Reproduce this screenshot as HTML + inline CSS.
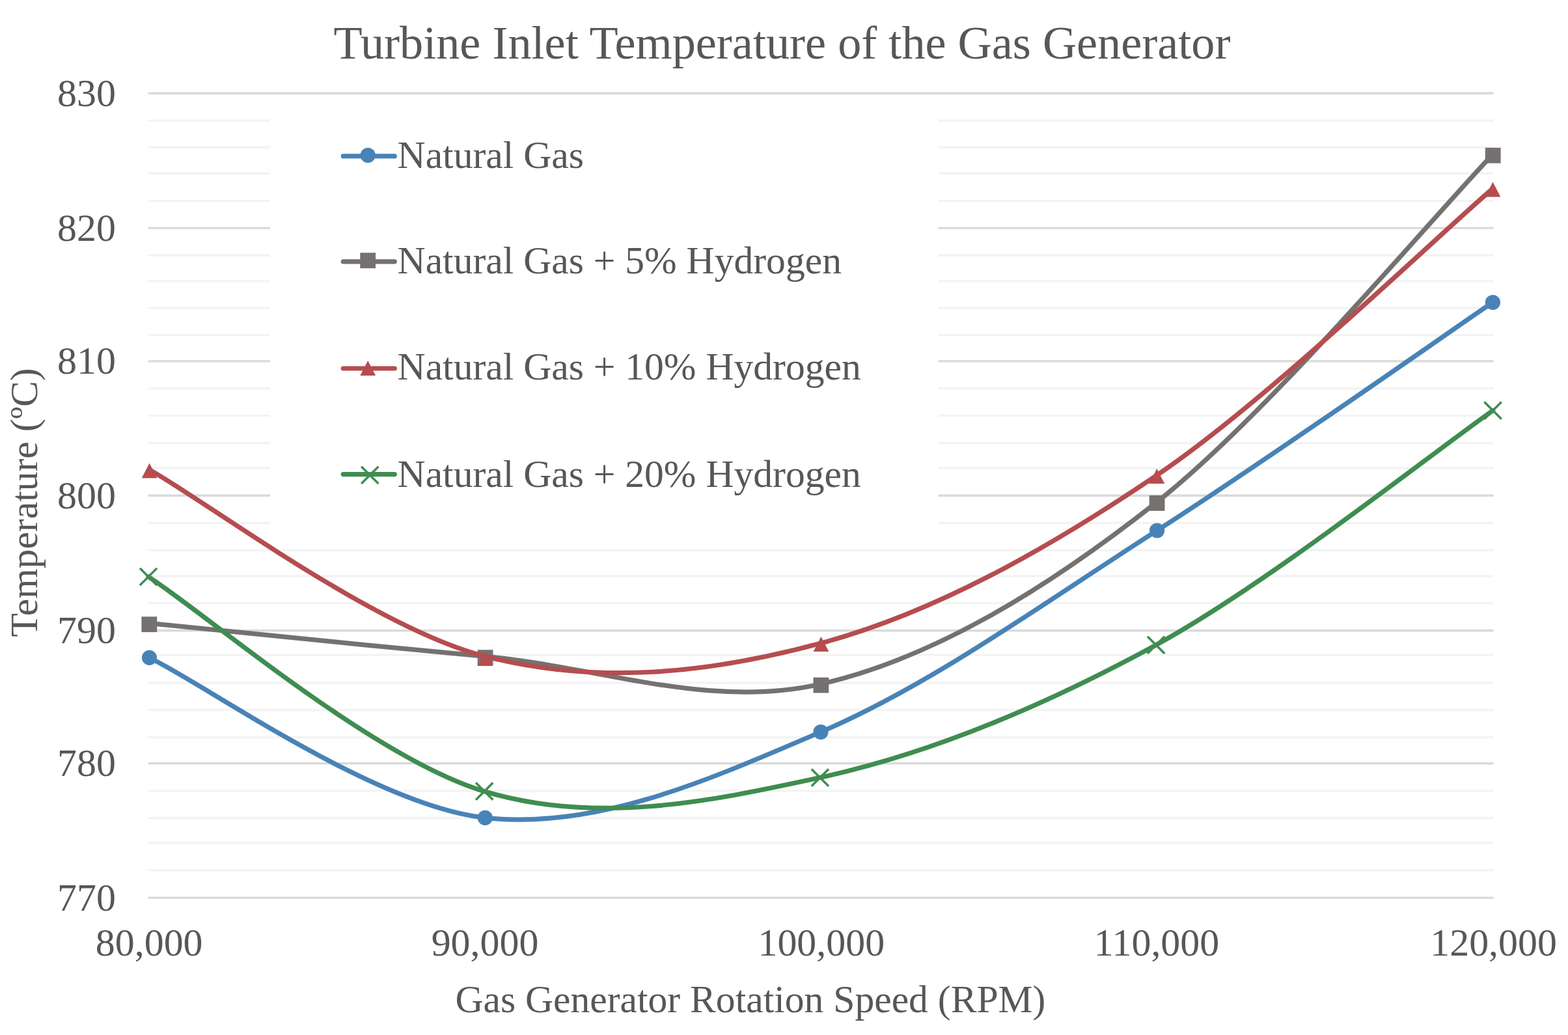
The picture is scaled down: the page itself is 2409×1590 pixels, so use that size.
<!DOCTYPE html>
<html lang="en"><head><meta charset="utf-8">
<title>Turbine Inlet Temperature of the Gas Generator</title>
<style>
html,body{margin:0;padding:0;background:#fff;}
body{width:2409px;height:1590px;overflow:hidden;}
svg{display:block;}
text{font-family:"Liberation Serif","Times New Roman",Times,serif;fill:#575757;font-kerning:normal;}
.t{font-size:72.2px;}
.a{font-size:59.6px;}
.k{font-size:59.9px;}
</style></head><body>
<svg width="2409" height="1590" viewBox="0 0 2409 1590" role="img" aria-label="Turbine Inlet Temperature of the Gas Generator">
<rect width="2409" height="1590" fill="#fff"/>
<g fill="none" stroke-width="3.4">
<path d="M227.8 143.3 H2294.6" stroke="#DADADA"/>
<path d="M227.8 185.1 H415 M1441.4 185.1 H2294.6" stroke="#F3F3F3"/>
<path d="M227.8 226.3 H415 M1441.4 226.3 H2294.6" stroke="#F3F3F3"/>
<path d="M227.8 266.3 H415 M1441.4 266.3 H2294.6" stroke="#F3F3F3"/>
<path d="M227.8 308.6 H415 M1441.4 308.6 H2294.6" stroke="#F3F3F3"/>
<path d="M227.8 350.4 H415 M1441.4 350.4 H2294.6" stroke="#DADADA"/>
<path d="M227.8 392.2 H415 M1441.4 392.2 H2294.6" stroke="#F3F3F3"/>
<path d="M227.8 432 H415 M1441.4 432 H2294.6" stroke="#F3F3F3"/>
<path d="M227.8 473.1 H415 M1441.4 473.1 H2294.6" stroke="#F3F3F3"/>
<path d="M227.8 514.9 H415 M1441.4 514.9 H2294.6" stroke="#F3F3F3"/>
<path d="M227.8 554.9 H415 M1441.4 554.9 H2294.6" stroke="#DADADA"/>
<path d="M227.8 596.7 H415 M1441.4 596.7 H2294.6" stroke="#F3F3F3"/>
<path d="M227.8 638.6 H415 M1441.4 638.6 H2294.6" stroke="#F3F3F3"/>
<path d="M227.8 680.8 H415 M1441.4 680.8 H2294.6" stroke="#F3F3F3"/>
<path d="M227.8 719 H415 M1441.4 719 H2294.6" stroke="#F3F3F3"/>
<path d="M227.8 761.2 H415 M1441.4 761.2 H2294.6" stroke="#DADADA"/>
<path d="M227.8 803.5 H415 M1441.4 803.5 H2294.6" stroke="#F3F3F3"/>
<path d="M227.8 845.3 H2294.6" stroke="#F3F3F3"/>
<path d="M227.8 885.1 H2294.6" stroke="#F3F3F3"/>
<path d="M227.8 926.5 H2294.6" stroke="#F3F3F3"/>
<path d="M227.8 968.8 H2294.6" stroke="#DADADA"/>
<path d="M227.8 1006.1 H2294.6" stroke="#F3F3F3"/>
<path d="M227.8 1049 H2294.6" stroke="#F3F3F3"/>
<path d="M227.8 1090.8 H2294.6" stroke="#F3F3F3"/>
<path d="M227.8 1132.7 H2294.6" stroke="#F3F3F3"/>
<path d="M227.8 1172.7 H2294.6" stroke="#DADADA"/>
<path d="M227.8 1214.9 H2294.6" stroke="#F3F3F3"/>
<path d="M227.8 1256.7 H2294.6" stroke="#F3F3F3"/>
<path d="M227.8 1294.9 H2294.6" stroke="#F3F3F3"/>
<path d="M227.8 1336.7 H2294.6" stroke="#F3F3F3"/>
<path d="M227.8 1379.2 H2294.6" stroke="#DADADA"/>
</g>
<g>
<path d="M229.5 1010.4 C315.47 1051.38 573.38 1237.28 745.3 1256.3 C917.22 1275.32 1088.95 1198.05 1261 1124.5 C1433.05 1050.95 1605.53 925 1777.6 815 C1949.67 705 2207.43 522.92 2293.4 464.5" fill="none" stroke="#4883B7" stroke-width="7.2" stroke-linecap="round" stroke-linejoin="round"/>
<circle cx="229.5" cy="1010.4" r="11.6" fill="#4883B7"/>
<circle cx="745.3" cy="1256.3" r="11.6" fill="#4883B7"/>
<circle cx="1261" cy="1124.5" r="11.6" fill="#4883B7"/>
<circle cx="1777.6" cy="815" r="11.6" fill="#4883B7"/>
<circle cx="2293.4" cy="464.5" r="11.6" fill="#4883B7"/>
</g>
<g>
<path d="M229.3 957.4 C315.35 965.9 573.58 992.83 745.6 1008.4 C917.62 1023.97 1089.4 1090.35 1261.4 1050.8 C1433.4 1011.25 1605.55 906.73 1777.6 771.1 C1949.65 635.47 2207.68 326.02 2293.7 237" fill="none" stroke="#767171" stroke-width="7.2" stroke-linecap="round" stroke-linejoin="round"/>
<rect x="217.4" y="947.3" width="23.8" height="23.8" fill="#767171"/>
<rect x="733.7" y="998.3" width="23.8" height="23.8" fill="#767171"/>
<rect x="1249.5" y="1040.7" width="23.8" height="23.8" fill="#767171"/>
<rect x="1765.7" y="761" width="23.8" height="23.8" fill="#767171"/>
<rect x="2281.8" y="226.9" width="23.8" height="23.8" fill="#767171"/>
</g>
<g>
<path d="M229.6 721.6 C315.57 769.38 573.42 963.88 745.4 1008.3 C917.38 1052.72 1089.5 1034.48 1261.5 988.1 C1433.5 941.72 1605.4 846.42 1777.4 730 C1949.4 613.58 2207.48 363 2293.5 289.6" fill="none" stroke="#B54D4F" stroke-width="7.2" stroke-linecap="round" stroke-linejoin="round"/>
<path d="M229.6 711.6 L241.5 734.6 L217.7 734.6 Z" fill="#B54D4F"/>
<path d="M745.4 1000.1 L757.3 1023.1 L733.5 1023.1 Z" fill="#B54D4F"/>
<path d="M1261.5 978.1 L1273.4 1001.1 L1249.6 1001.1 Z" fill="#B54D4F"/>
<path d="M1777.4 720 L1789.3 743 L1765.5 743 Z" fill="#B54D4F"/>
<path d="M2293.5 279.6 L2305.4 302.6 L2281.6 302.6 Z" fill="#B54D4F"/>
</g>
<g>
<path d="M228 886 C314.03 940.95 572.22 1164.27 744.2 1215.7 C916.18 1267.13 1087.92 1232.08 1259.9 1194.6 C1431.88 1157.12 1603.82 1084.8 1776.1 990.8 C1948.38 896.8 2207.35 690.63 2293.6 630.6" fill="none" stroke="#3F8D50" stroke-width="7.2" stroke-linecap="round" stroke-linejoin="round"/>
<path d="M216.1 874.1 L239.9 897.9 M216.1 897.9 L239.9 874.1" fill="none" stroke="#3F8D50" stroke-width="3.5" stroke-linecap="square"/>
<path d="M732.3 1203.8 L756.1 1227.6 M732.3 1227.6 L756.1 1203.8" fill="none" stroke="#3F8D50" stroke-width="3.5" stroke-linecap="square"/>
<path d="M1248 1182.7 L1271.8 1206.5 M1248 1206.5 L1271.8 1182.7" fill="none" stroke="#3F8D50" stroke-width="3.5" stroke-linecap="square"/>
<path d="M1764.2 978.9 L1788 1002.7 M1764.2 1002.7 L1788 978.9" fill="none" stroke="#3F8D50" stroke-width="3.5" stroke-linecap="square"/>
<path d="M2281.7 618.7 L2305.5 642.5 M2281.7 642.5 L2305.5 618.7" fill="none" stroke="#3F8D50" stroke-width="3.5" stroke-linecap="square"/>
</g>
<g>
<path d="M527.3 239.9 H606.3" fill="none" stroke="#4883B7" stroke-width="7.2" stroke-linecap="round"/>
<circle cx="565.2" cy="238.5" r="11.6" fill="#4883B7"/>
<text class="a" x="610.6" y="258.3">Natural Gas</text>
</g>
<g>
<path d="M527.3 401.8 H606.3" fill="none" stroke="#767171" stroke-width="7.2" stroke-linecap="round"/>
<rect x="553.3" y="388.3" width="23.8" height="23.8" fill="#767171"/>
<text class="a" x="610.6" y="420.4">Natural Gas + 5% Hydrogen</text>
</g>
<g>
<path d="M527.3 566 H606.3" fill="none" stroke="#B54D4F" stroke-width="7.2" stroke-linecap="round"/>
<path d="M565.2 553.9 L577.1 576.9 L553.3 576.9 Z" fill="#B54D4F"/>
<text class="a" x="610.6" y="582.5">Natural Gas + 10% Hydrogen</text>
</g>
<g>
<path d="M527.3 728.6 H606.3" fill="none" stroke="#3F8D50" stroke-width="7.2" stroke-linecap="round"/>
<path d="M556.4 717.9 L580.2 741.7 M556.4 741.7 L580.2 717.9" fill="none" stroke="#3F8D50" stroke-width="3.5" stroke-linecap="square"/>
<text class="a" x="610.6" y="748.4">Natural Gas + 20% Hydrogen</text>
</g>
<text class="t" x="1201.45" y="90.4" text-anchor="middle">Turbine Inlet Temperature of the Gas Generator</text>
<text class="k" x="177.9" y="1398.7" text-anchor="end">770</text>
<text class="k" x="177.9" y="1192.2" text-anchor="end">780</text>
<text class="k" x="177.9" y="988.3" text-anchor="end">790</text>
<text class="k" x="177.9" y="780.7" text-anchor="end">800</text>
<text class="k" x="177.9" y="574.4" text-anchor="end">810</text>
<text class="k" x="177.9" y="369.9" text-anchor="end">820</text>
<text class="k" x="177.9" y="162.8" text-anchor="end">830</text>
<text class="k" x="229.2" y="1468.3" text-anchor="middle">80,000</text>
<text class="k" x="745" y="1468.3" text-anchor="middle">90,000</text>
<text class="k" x="1261.8" y="1468.3" text-anchor="middle">100,000</text>
<text class="k" x="1777" y="1468.3" text-anchor="middle">110,000</text>
<text class="k" x="2294.6" y="1468.3" text-anchor="middle">120,000</text>
<text class="a" x="1152.9" y="1554.6" text-anchor="middle">Gas Generator Rotation Speed (RPM)</text>
<text class="a" transform="translate(57 771.9) rotate(-90)" text-anchor="middle">Temperature (ºC)</text>
</svg>
</body></html>
